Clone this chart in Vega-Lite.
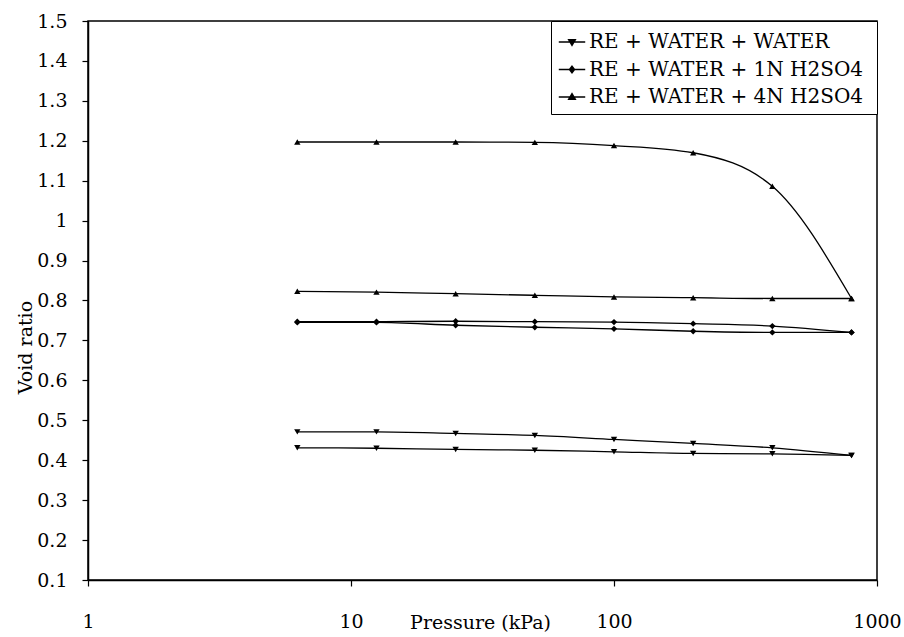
{
  "$schema": "https://vega.github.io/schema/vega-lite/v6.json",
  "width": 789,
  "height": 559,
  "autosize": {"type": "none"},
  "padding": {"left": 88, "top": 21, "right": 27, "bottom": 57},
  "background": "white",
  "config": {
    "font": "DejaVu Serif",
    "view": {"stroke": "black", "strokeWidth": 1.5},
    "axis": {"grid": false, "domainColor": "black", "domainWidth": 1.5, "tickColor": "black", "tickWidth": 1.2, "labelColor": "black", "titleColor": "black", "titleFontWeight": "normal", "labelFont": "DejaVu Serif", "titleFont": "DejaVu Serif"}
  },
  "data": {
    "values": [
      {"p": 6.25, "e": 1.197, "series": "4N-a", "group": "RE + WATER + 4N H2SO4"},
      {"p": 12.5, "e": 1.197, "series": "4N-a", "group": "RE + WATER + 4N H2SO4"},
      {"p": 25, "e": 1.197, "series": "4N-a", "group": "RE + WATER + 4N H2SO4"},
      {"p": 50, "e": 1.196, "series": "4N-a", "group": "RE + WATER + 4N H2SO4"},
      {"p": 100, "e": 1.188, "series": "4N-a", "group": "RE + WATER + 4N H2SO4"},
      {"p": 200, "e": 1.17, "series": "4N-a", "group": "RE + WATER + 4N H2SO4"},
      {"p": 400, "e": 1.086, "series": "4N-a", "group": "RE + WATER + 4N H2SO4"},
      {"p": 800, "e": 0.805, "series": "4N-a", "group": "RE + WATER + 4N H2SO4"},
      {"p": 6.25, "e": 0.823, "series": "4N-b", "group": "RE + WATER + 4N H2SO4"},
      {"p": 12.5, "e": 0.821, "series": "4N-b", "group": "RE + WATER + 4N H2SO4"},
      {"p": 25, "e": 0.817, "series": "4N-b", "group": "RE + WATER + 4N H2SO4"},
      {"p": 50, "e": 0.813, "series": "4N-b", "group": "RE + WATER + 4N H2SO4"},
      {"p": 100, "e": 0.809, "series": "4N-b", "group": "RE + WATER + 4N H2SO4"},
      {"p": 200, "e": 0.807, "series": "4N-b", "group": "RE + WATER + 4N H2SO4"},
      {"p": 400, "e": 0.805, "series": "4N-b", "group": "RE + WATER + 4N H2SO4"},
      {"p": 800, "e": 0.805, "series": "4N-b", "group": "RE + WATER + 4N H2SO4"},
      {"p": 6.25, "e": 0.747, "series": "1N-a", "group": "RE + WATER + 1N  H2SO4"},
      {"p": 12.5, "e": 0.747, "series": "1N-a", "group": "RE + WATER + 1N  H2SO4"},
      {"p": 25, "e": 0.748, "series": "1N-a", "group": "RE + WATER + 1N  H2SO4"},
      {"p": 50, "e": 0.747, "series": "1N-a", "group": "RE + WATER + 1N  H2SO4"},
      {"p": 100, "e": 0.746, "series": "1N-a", "group": "RE + WATER + 1N  H2SO4"},
      {"p": 200, "e": 0.742, "series": "1N-a", "group": "RE + WATER + 1N  H2SO4"},
      {"p": 400, "e": 0.736, "series": "1N-a", "group": "RE + WATER + 1N  H2SO4"},
      {"p": 800, "e": 0.72, "series": "1N-a", "group": "RE + WATER + 1N  H2SO4"},
      {"p": 6.25, "e": 0.745, "series": "1N-b", "group": "RE + WATER + 1N  H2SO4"},
      {"p": 12.5, "e": 0.745, "series": "1N-b", "group": "RE + WATER + 1N  H2SO4"},
      {"p": 25, "e": 0.738, "series": "1N-b", "group": "RE + WATER + 1N  H2SO4"},
      {"p": 50, "e": 0.733, "series": "1N-b", "group": "RE + WATER + 1N  H2SO4"},
      {"p": 100, "e": 0.729, "series": "1N-b", "group": "RE + WATER + 1N  H2SO4"},
      {"p": 200, "e": 0.723, "series": "1N-b", "group": "RE + WATER + 1N  H2SO4"},
      {"p": 400, "e": 0.72, "series": "1N-b", "group": "RE + WATER + 1N  H2SO4"},
      {"p": 800, "e": 0.72, "series": "1N-b", "group": "RE + WATER + 1N  H2SO4"},
      {"p": 6.25, "e": 0.471, "series": "W-a", "group": "RE + WATER + WATER"},
      {"p": 12.5, "e": 0.471, "series": "W-a", "group": "RE + WATER + WATER"},
      {"p": 25, "e": 0.467, "series": "W-a", "group": "RE + WATER + WATER"},
      {"p": 50, "e": 0.462, "series": "W-a", "group": "RE + WATER + WATER"},
      {"p": 100, "e": 0.452, "series": "W-a", "group": "RE + WATER + WATER"},
      {"p": 200, "e": 0.442, "series": "W-a", "group": "RE + WATER + WATER"},
      {"p": 400, "e": 0.431, "series": "W-a", "group": "RE + WATER + WATER"},
      {"p": 800, "e": 0.412, "series": "W-a", "group": "RE + WATER + WATER"},
      {"p": 6.25, "e": 0.431, "series": "W-b", "group": "RE + WATER + WATER"},
      {"p": 12.5, "e": 0.43, "series": "W-b", "group": "RE + WATER + WATER"},
      {"p": 25, "e": 0.427, "series": "W-b", "group": "RE + WATER + WATER"},
      {"p": 50, "e": 0.425, "series": "W-b", "group": "RE + WATER + WATER"},
      {"p": 100, "e": 0.421, "series": "W-b", "group": "RE + WATER + WATER"},
      {"p": 200, "e": 0.417, "series": "W-b", "group": "RE + WATER + WATER"},
      {"p": 400, "e": 0.416, "series": "W-b", "group": "RE + WATER + WATER"},
      {"p": 800, "e": 0.412, "series": "W-b", "group": "RE + WATER + WATER"}
    ]
  },
  "encoding": {
    "x": {
      "field": "p", "type": "quantitative",
      "scale": {"type": "log", "domain": [1, 1000], "nice": false},
      "axis": {"values": [1, 10, 100, 1000], "format": "d", "tickSize": 6, "labelFontSize": 19, "labelBaseline": "alphabetic", "labelPadding": 41, "labelFlush": false, "labelOverlap": false, "title": "Pressure (kPa)", "titleFontSize": 19, "titleX": 392, "titleY": 48, "titleBaseline": "alphabetic"}
    },
    "y": {
      "field": "e", "type": "quantitative",
      "scale": {"domain": [0.1, 1.5], "nice": false, "zero": false},
      "axis": {"values": [0.1, 0.2, 0.3, 0.4, 0.5, 0.6, 0.7, 0.8, 0.9, 1, 1.1, 1.2, 1.3, 1.4, 1.5], "format": "~g", "tickSize": 6, "labelFontSize": 19, "labelPadding": 15, "labelFlush": false, "labelOverlap": false, "title": "Void ratio", "titleFontSize": 19, "titleAngle": -90, "titleX": -63, "titleY": 326, "titleAlign": "center", "titleBaseline": "middle"}
    }
  },
  "layer": [
    {
      "mark": {"type": "line", "interpolate": "monotone", "color": "black", "strokeWidth": 1.3},
      "encoding": {"detail": {"field": "series"}}
    },
    {
      "transform": [{"filter": "datum.group === 'RE + WATER + WATER'"}],
      "mark": {"type": "point", "filled": true, "color": "black", "opacity": 1, "size": 40, "shape": "triangle-down"},
      "encoding": {}
    },
    {
      "transform": [{"filter": "datum.group === 'RE + WATER + 1N  H2SO4'"}],
      "mark": {"type": "point", "filled": true, "color": "black", "opacity": 1, "size": 40, "shape": "diamond"},
      "encoding": {}
    },
    {
      "transform": [{"filter": "datum.group === 'RE + WATER + 4N H2SO4'"}],
      "mark": {"type": "point", "filled": true, "color": "black", "opacity": 1, "size": 40, "shape": "triangle-up"},
      "encoding": {}
    },
    {
      "mark": {"type": "point", "filled": false, "color": "black", "opacity": 0},
      "encoding": {
        "shape": {
          "field": "group", "type": "nominal",
          "scale": {"domain": ["RE + WATER + WATER", "RE + WATER + 1N  H2SO4", "RE + WATER + 4N H2SO4"], "range": [
            "M-1,0H1M-0.26,-0.18H0.26L0,0.26ZM-0.213,-0.1H0.213M-0.165,-0.02H0.165M-0.118,0.06H0.118M-0.071,0.14H0.071",
            "M-1,0H1M0,-0.26L0.2,0L0,0.26L-0.2,0ZM-0.138,-0.08H0.138M-0.138,0.08H0.138M-0.077,-0.16H0.077M-0.077,0.16H0.077",
            "M-1,0H1M-0.26,0.18H0.26L0,-0.26ZM-0.213,0.1H0.213M-0.165,0.02H0.165M-0.118,-0.06H0.118M-0.071,-0.14H0.071"
          ]},
          "legend": {
            "title": null, "orient": "top-right", "offset": 0,
            "strokeColor": "black", "fillColor": "white", "padding": 7,
            "labelFont": "DejaVu Serif", "labelFontSize": 20, "labelColor": "black", "labelOffset": 3, "labelLimit": 400,
            "symbolSize": 700, "symbolStrokeWidth": 1.3, "symbolStrokeColor": "black", "symbolOpacity": 1,
            "rowPadding": 3.5,
            "encode": {"symbols": {"update": {"opacity": {"value": 1}, "stroke": {"value": "black"}, "strokeWidth": {"value": 1.3}}}}
          }
        }
      }
    }
  ]
}
